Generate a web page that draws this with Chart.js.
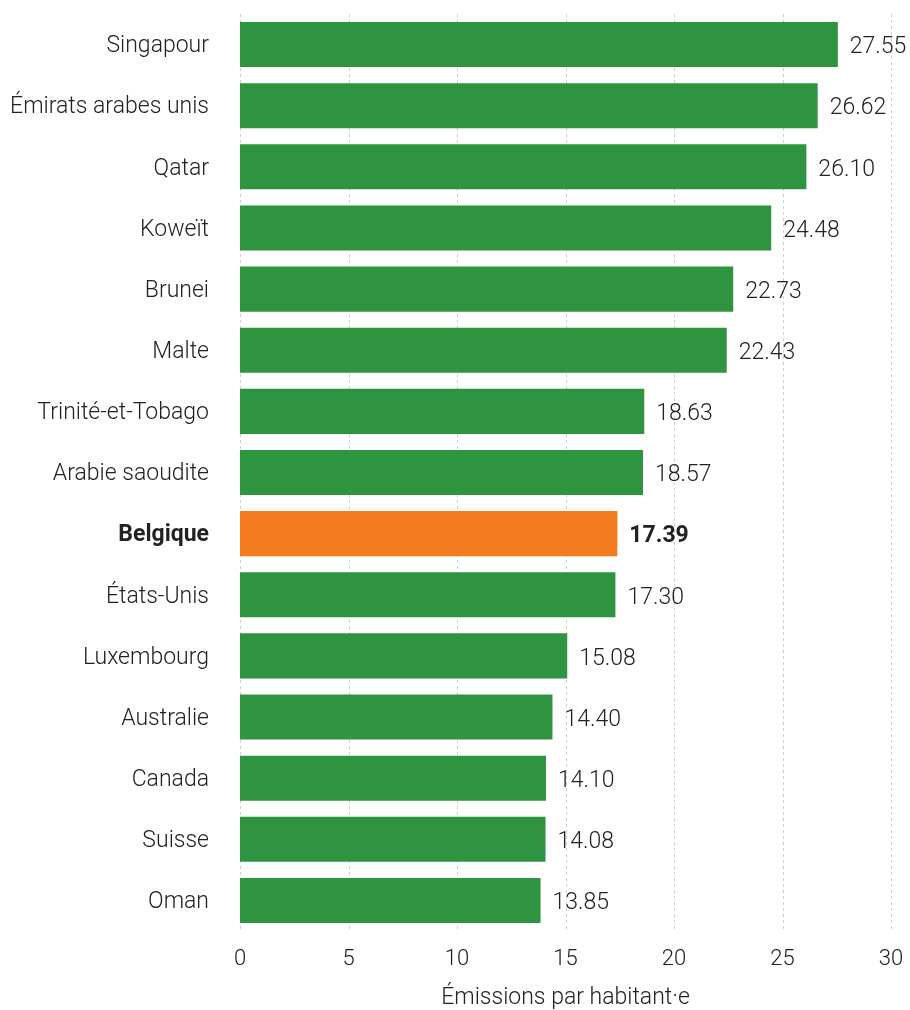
<!DOCTYPE html>
<html><head><meta charset="utf-8">
<script src="https://cdn.jsdelivr.net/npm/chart.js@4.4.0/dist/chart.umd.min.js"></script>
<style>html,body{margin:0;padding:0;background:#fff}#wrap{width:910px;height:1010px;position:relative}</style>
</head><body><div id="wrap"><canvas id="c"></canvas></div>
<script>
const categories = ["Singapour","Émirats arabes unis","Qatar","Koweït","Brunei","Malte","Trinité-et-Tobago","Arabie saoudite","Belgique","États-Unis","Luxembourg","Australie","Canada","Suisse","Oman"];
const values = [27.55,26.62,26.10,24.48,22.73,22.43,18.63,18.57,17.39,17.30,15.08,14.40,14.10,14.08,13.85];
const highlight = "Belgique";
const xTicks = [0,5,10,15,20,25,30];
const xTitle = "Émissions par habitant·e";

const GREEN = "#2e9440", ORANGE = "#f47c20";
const FONT = "Roboto";
const colors = categories.map(c => c === highlight ? ORANGE : GREEN);

const valueLabels = {
  id: 'valueLabels',
  afterDatasetsDraw(chart) {
    const ctx = chart.ctx;
    const meta = chart.getDatasetMeta(0);
    ctx.save();
    ctx.textBaseline = 'middle';
    ctx.textAlign = 'left';
    meta.data.forEach((bar, i) => {
      const bold = categories[i] === highlight;
      ctx.font = (bold ? '700 ' : '300 ') + '23px ' + FONT;
      ctx.fillStyle = '#222';
      ctx.fillText(values[i].toFixed(2), bar.x + 12, bar.y + 3);
    });
    ctx.restore();
  }
};

const dashGrid = {
  id: 'dashGrid',
  beforeDatasetsDraw(chart) {
    const { ctx, chartArea, scales } = chart;
    ctx.save();
    ctx.strokeStyle = '#cfcfcf';
    ctx.lineWidth = 1;
    ctx.setLineDash([3, 3]);
    xTicks.forEach(v => {
      const x = Math.round(scales.x.getPixelForValue(v)) + 0.5;
      ctx.beginPath();
      ctx.moveTo(x, chartArea.top);
      ctx.lineTo(x, chartArea.bottom);
      ctx.stroke();
    });
    ctx.restore();
  }
};

new Chart(document.getElementById('c'), {
  type: 'bar',
  data: {
    labels: categories,
    datasets: [{ data: values, backgroundColor: colors, borderWidth: 0, barPercentage: 0.737, categoryPercentage: 1 }]
  },
  options: {
    indexAxis: 'y',
    responsive: true,
    maintainAspectRatio: false,
    animation: false,
    devicePixelRatio: 1,
    layout: { padding: { top: 14, right: 19, left: 0, bottom: 0 } },
    plugins: { legend: { display: false }, tooltip: { enabled: false } },
    scales: {
      x: {
        min: 0, max: 30,
        afterBuildTicks(scale) { scale.ticks = xTicks.map(v => ({ value: v })); },
        afterFit(scale) { scale.height = 79; scale.paddingLeft = 0; scale.paddingRight = 0; },
        grid: { display: false, drawTicks: false },
        border: { display: false },
        ticks: { padding: 15, color: '#222', font: { family: FONT, size: 22, weight: '300' } },
        title: { display: true, text: xTitle, color: '#222', padding: { top: 4, bottom: 0 }, font: { family: FONT, size: 23, weight: '300', lineHeight: 1 } }
      },
      y: {
        afterFit(scale) { scale.width = 240; scale.paddingTop = 0; scale.paddingBottom = 0; },
        grid: { display: false, drawTicks: false },
        border: { display: false },
        ticks: {
          padding: 31, color: '#222', labelOffset: 2,
          font: (ctx) => ({ family: FONT, size: 23, weight: categories[ctx.index] === highlight ? '700' : '300' })
        }
      }
    }
  },
  plugins: [dashGrid, valueLabels]
});
</script></body></html>
